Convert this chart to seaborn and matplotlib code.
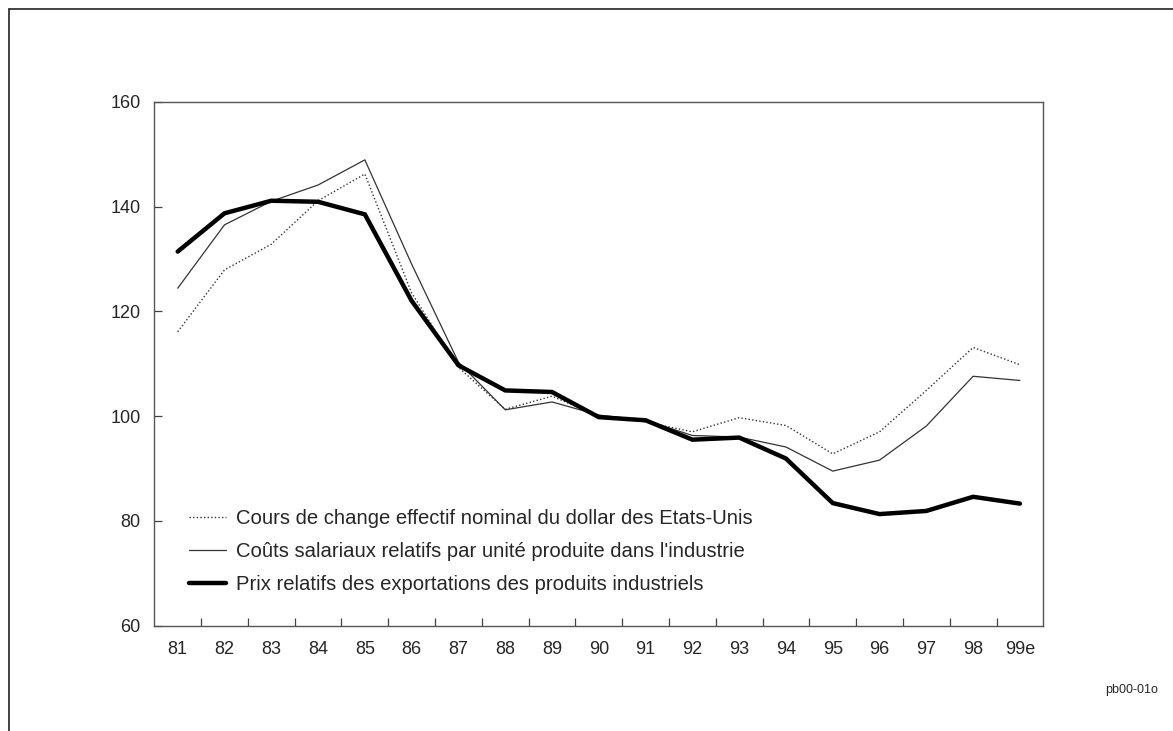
import numpy as np
import pandas as pd
import matplotlib.pyplot as plt
import seaborn as sns
from matplotlib.lines import Line2D

years = ['81', '82', '83', '84', '85', '86', '87', '88', '89', '90',
         '91', '92', '93', '94', '95', '96', '97', '98', '99e']
change_nominal = [116.1, 127.9, 132.8, 141.1, 146.2, 123.5, 109.3, 101.3, 103.8, 100.0,
                  98.9, 97.0, 99.7, 98.2, 92.8, 97.0, 104.9, 113.1, 109.8]
couts_salariaux = [124.4, 136.5, 141.0, 144.1, 148.9, 129.0, 110.3, 101.2, 102.7, 100.2,
                   99.2, 96.3, 96.0, 94.1, 89.5, 91.6, 98.1, 107.6, 106.8]
prix_export = [131.4, 138.7, 141.1, 140.9, 138.5, 122.0, 109.7, 104.9, 104.6, 99.8,
               99.2, 95.5, 95.9, 91.9, 83.4, 81.3, 81.9, 84.6, 83.3]
labels = ["Cours de change effectif nominal du dollar des Etats-Unis",
          "Coûts salariaux relatifs par unité produite dans l'industrie",
          "Prix relatifs des exportations des produits industriels"]
y_ticks = [60, 80, 100, 120, 140, 160]

sns.set_style('white')
plt.rcParams['font.family'] = ['Liberation Sans', 'DejaVu Sans']

W, H = 1173, 731
fig = plt.figure(figsize=(W / 100, H / 100), dpi=100)
ax = fig.add_axes([154.3 / W, (H - 625.7) / H, 889 / W, 524 / H])

df = pd.DataFrame({'annee': years, 'change': change_nominal,
                   'couts': couts_salariaux, 'prix': prix_export})
pos = np.arange(len(years))

sns.lineplot(x=pos, y=df['change'], ax=ax, color='#333333', linewidth=1.0,
             linestyle=(0, (1, 1.6)), label=labels[0])
sns.lineplot(x=pos, y=df['couts'], ax=ax, color='#333333', linewidth=0.9,
             label=labels[1])
sns.lineplot(x=pos, y=df['prix'], ax=ax, color='black', linewidth=3.2,
             solid_joinstyle='miter', label=labels[2])

ax.set_xlim(-0.5, len(years) - 0.5)
ax.set_ylim(60, 160)
ax.set_xticks(pos)
ax.set_xticklabels(df['annee'])
ax.set_xticks(np.arange(0.5, len(years) - 1, 1.0), minor=True)
ax.set_yticks(y_ticks)
ax.set_xlabel('')
ax.set_ylabel('')

ax.tick_params(axis='x', which='major', length=0, pad=11, labelsize=13)
ax.tick_params(axis='x', which='minor', direction='in', length=6, width=0.9,
               color='#444444', bottom=True)
ax.tick_params(axis='y', which='major', direction='in', length=6, width=0.9,
               color='#444444', pad=10, labelsize=13, left=True)
for s in ax.spines.values():
    s.set_color('#555555')
    s.set_linewidth(1.0)

ax.legend(loc='upper left', bbox_to_anchor=(0.0387, 0.2227), frameon=False,
          fontsize=14.6, handlelength=1.85, handletextpad=0.5,
          labelspacing=0.7, borderpad=0, borderaxespad=0)

# cadre de la page
fig.add_artist(Line2D([9 / W, 1], [1 - 9 / H, 1 - 9 / H], color='#222222', linewidth=1.2))
fig.add_artist(Line2D([9 / W, 9 / W], [0, 1 - 9 / H], color='#222222', linewidth=1.2))
fig.text(1158 / W, 1 - 690 / H, 'pb00-01o', ha='right', va='center', fontsize=9)

fig.savefig('out.png', dpi=100)
